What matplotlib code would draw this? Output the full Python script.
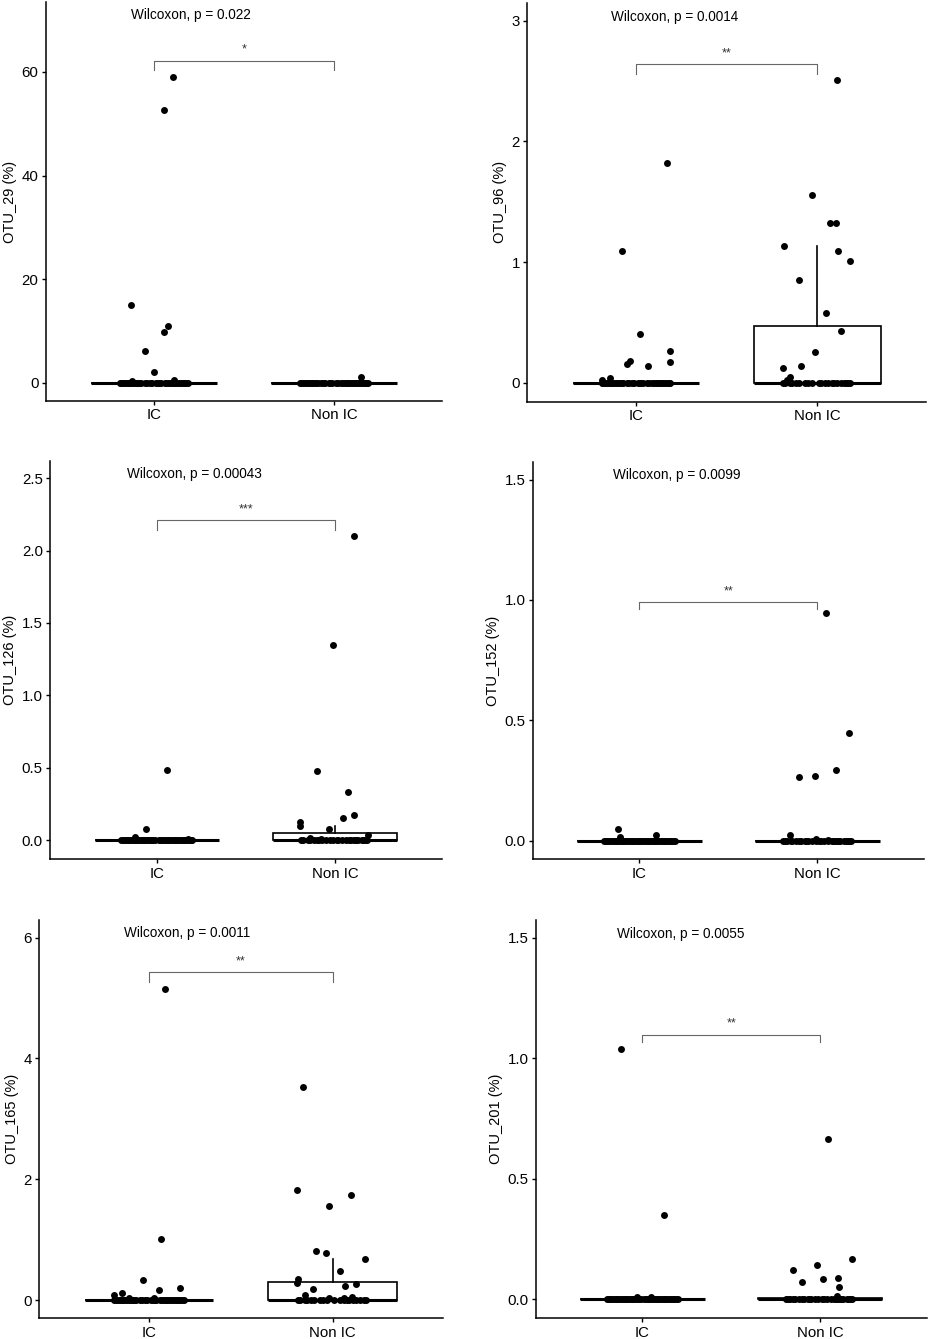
import matplotlib
matplotlib.use('Agg')
import matplotlib.pyplot as plt

plt.rcParams['font.family'] = ['Liberation Sans', 'DejaVu Sans']

groups = ['IC', 'Non IC']
otu_names = ['OTU_29', 'OTU_96', 'OTU_126', 'OTU_152', 'OTU_165', 'OTU_201']
p_values = ['0.022', '0.0014', '0.00043', '0.0099', '0.0011', '0.0055']
stars = ['*', '**', '***', '**', '**', '**']

# samples per group
n_ic = 44
n_nic = 36

# horizontal spread of the points sitting on zero
ic_zero_jit = [-0.19, 0.12, -0.05, 0.17, -0.14, 0.03, 0.09, -0.11, 0.19, -0.02,
               -0.17, 0.06, 0.14, -0.08, 0.01, -0.16, 0.10, -0.12, 0.18, -0.04,
               0.07, -0.18, 0.15, -0.09, 0.04, -0.13, 0.11, -0.01, 0.16, -0.07,
               0.02, -0.15, 0.13, -0.10, 0.08, -0.03, 0.20, -0.06, 0.05, -0.20,
               0.00, 0.19, -0.17, 0.11]
nic_zero_jit = [-0.18, 0.09, -0.03, 0.15, -0.12, 0.04, 0.18, -0.07, 0.11, -0.15,
                0.01, 0.13, -0.10, 0.06, -0.19, 0.17, -0.05, 0.08, -0.14, 0.02,
                0.16, -0.09, 0.12, -0.01, -0.17, 0.10, -0.06, 0.19, -0.11, 0.05,
                -0.16, 0.14, -0.02, 0.07, -0.13, 0.03]

# non-zero abundances (%) and their jitter offsets, one pair per group
otu29_ic = [59.1, 52.6, 15.0, 10.9, 9.9, 6.2, 2.1, 0.6, 0.3]
otu29_ic_jit = [0.105, 0.054, -0.127, 0.077, 0.057, -0.048, 0.002, 0.113, -0.12]
otu29_nic = [1.2]
otu29_nic_jit = [0.153]

otu96_ic = [1.82, 1.09, 0.40, 0.26, 0.18, 0.17, 0.155, 0.14, 0.04, 0.025]
otu96_ic_jit = [0.170, -0.078, 0.024, 0.185, -0.034, 0.185, -0.051, 0.067, -0.143, -0.189]
otu96_nic = [2.51, 1.56, 1.32, 1.32, 1.13, 1.09, 1.01, 0.85, 0.575, 0.43,
             0.254, 0.136, 0.124, 0.045, 0.025]
otu96_nic_jit = [0.109, -0.031, 0.072, 0.101, -0.186, 0.116, 0.183, -0.102, 0.047, 0.130,
                 -0.012, -0.087, -0.190, -0.152, -0.168]

otu126_ic = [0.486, 0.076, 0.025, 0.012]
otu126_ic_jit = [0.057, -0.063, -0.121, 0.175]
otu126_nic = [2.10, 1.35, 0.48, 0.336, 0.175, 0.154, 0.124, 0.099, 0.080, 0.039, 0.018, 0.01]
otu126_nic_jit = [0.110, -0.013, -0.102, 0.076, 0.106, 0.047, -0.195, -0.194, -0.032, 0.186,
                  -0.14, -0.08]

otu152_ic = [0.047, 0.022, 0.014]
otu152_ic_jit = [-0.120, 0.094, -0.109]
otu152_nic = [0.945, 0.447, 0.293, 0.269, 0.263, 0.022, 0.006, 0.005]
otu152_nic_jit = [0.047, 0.180, 0.105, -0.013, -0.103, -0.154, -0.01, 0.06]

otu165_ic = [5.15, 1.01, 0.33, 0.20, 0.17, 0.12, 0.088, 0.04, 0.03]
otu165_ic_jit = [0.085, 0.063, -0.034, 0.168, 0.052, -0.145, -0.190, 0.029, -0.112]
otu165_nic = [3.52, 1.82, 1.74, 1.56, 0.81, 0.78, 0.68, 0.49, 0.35, 0.29,
              0.26, 0.24, 0.18, 0.08, 0.05, 0.04, 0.03]
otu165_nic_jit = [-0.159, -0.193, 0.098, -0.018, -0.090, -0.034, 0.177, 0.042, -0.190, -0.193,
                  0.125, 0.069, -0.106, -0.152, 0.103, -0.022, 0.06]

otu201_ic = [1.039, 0.347, 0.01, 0.008]
otu201_ic_jit = [-0.118, 0.124, -0.03, 0.05]
otu201_nic = [0.663, 0.166, 0.14, 0.122, 0.086, 0.083, 0.072, 0.050, 0.012]
otu201_nic_jit = [0.045, 0.182, -0.015, -0.152, 0.101, 0.019, -0.103, 0.107, 0.094]

ic_data = [otu29_ic, otu96_ic, otu126_ic, otu152_ic, otu165_ic, otu201_ic]
ic_jit = [otu29_ic_jit, otu96_ic_jit, otu126_ic_jit, otu152_ic_jit, otu165_ic_jit, otu201_ic_jit]
nic_data = [otu29_nic, otu96_nic, otu126_nic, otu152_nic, otu165_nic, otu201_nic]
nic_jit = [otu29_nic_jit, otu96_nic_jit, otu126_nic_jit, otu152_nic_jit, otu165_nic_jit, otu201_nic_jit]

# axis ranges and ticks
y_limits = [(-3.5, 73.5), (-0.157, 3.147), (-0.131, 2.62), (-0.077, 1.574), (-0.30, 6.29), (-0.08, 1.573)]
y_ticks = [[0, 20, 40, 60], [0, 1, 2, 3], [0, 0.5, 1.0, 1.5, 2.0, 2.5],
           [0, 0.5, 1.0, 1.5], [0, 2, 4, 6], [0, 0.5, 1.0, 1.5]]
tick_fmt = ['{:.0f}', '{:.0f}', '{:.1f}', '{:.1f}', '{:.0f}', '{:.1f}']

# comparison bracket (top, bottom of legs, star height) and label placement
bracket_top = [62.2, 2.638, 2.21, 0.991, 5.43, 1.096]
bracket_low = [60.3, 2.558, 2.143, 0.963, 5.27, 1.068]
star_y = [64.3, 2.73, 2.286, 1.037, 5.61, 1.144]
label_x = [0.873, 0.862, 0.833, 0.849, 0.865, 0.858]
label_y = [70.9, 3.033, 2.528, 1.518, 6.07, 1.516]

# panel boxes in pixels: left, right, top, bottom
panel_px = [(45.7, 442, 2, 401), (527.3, 926, 3, 401.7),
            (50, 441.7, 460.7, 859.3), (532.7, 924, 461.7, 859.3),
            (39, 442.7, 920, 1318.3), (535.7, 926.7, 920, 1318.3)]

W, H = 935, 1339


def full_group(values, jit, zero_jit, n, center):
    """pad the non-zero values with the zero samples and give every point an x"""
    n_zero = n - len(values)
    ys = list(values) + [0.0] * n_zero
    xs = [center + j for j in jit] + [center + j for j in zero_jit[:n_zero]]
    return xs, ys


def draw_panel(ax, i):
    ic_x, ic_y = full_group(ic_data[i], ic_jit[i], ic_zero_jit, n_ic, 1)
    nic_x, nic_y = full_group(nic_data[i], nic_jit[i], nic_zero_jit, n_nic, 2)

    ax.boxplot([ic_y, nic_y], positions=[1, 2], widths=0.7, whis=1.5,
               showfliers=False, showcaps=False, patch_artist=True,
               boxprops=dict(facecolor='white', edgecolor='black', linewidth=1.2),
               medianprops=dict(color='black', linewidth=2.2),
               whiskerprops=dict(color='black', linewidth=1.2), zorder=2)

    ax.scatter(ic_x + nic_x, ic_y + nic_y, s=25, color='black', linewidths=0, zorder=3)

    # significance bracket
    ax.plot([1, 1, 2, 2], [bracket_low[i], bracket_top[i], bracket_top[i], bracket_low[i]],
            color='#666666', linewidth=0.8, zorder=4)
    ax.text(1.5, star_y[i], stars[i], ha='center', va='center', fontsize=9, color='#333333')
    ax.text(label_x[i], label_y[i], 'Wilcoxon, p = ' + p_values[i],
            ha='left', va='center', fontsize=9.8, color='black')

    ax.set_xlim(0.4, 2.6)
    ax.set_ylim(*y_limits[i])
    ax.set_xticks([1, 2])
    ax.set_xticklabels(groups)
    ax.set_yticks(y_ticks[i])
    ax.set_yticklabels([tick_fmt[i].format(t) for t in y_ticks[i]])
    ax.set_ylabel(otu_names[i] + ' (%)', fontsize=10.5, labelpad=3)

    for side in ['top', 'right']:
        ax.spines[side].set_visible(False)
    for side in ['left', 'bottom']:
        ax.spines[side].set_linewidth(1.1)
        ax.spines[side].set_color('black')
    ax.tick_params(axis='both', labelsize=10.8, length=3, width=1.0, pad=2.2,
                   colors='black')


def main():
    fig = plt.figure(figsize=(W / 100, H / 100), dpi=100)
    fig.patch.set_facecolor('white')

    for i, (l, r, t, b) in enumerate(panel_px):
        ax = fig.add_axes([l / W, 1 - b / H, (r - l) / W, (b - t) / H])
        draw_panel(ax, i)

    fig.savefig('out.png', dpi=100)


main()
